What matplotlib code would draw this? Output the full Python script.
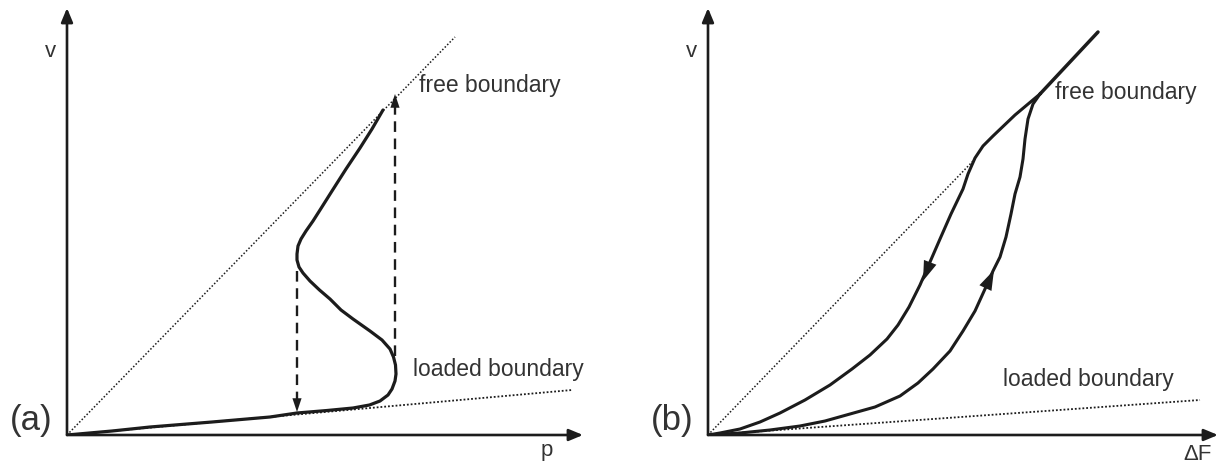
import matplotlib.pyplot as plt
import numpy as np

plt.rcParams['font.family'] = ['Liberation Sans', 'DejaVu Sans']

INK = '#1c1c1c'
TXT = '#333333'

# ---- panel (a): v against p, S-shaped response ----
a_curve_p = [0.0, 0.9, 1.66, 2.9, 4.06, 4.6, 5.2, 5.72, 6.05, 6.26, 6.42, 6.5, 6.56, 6.58, 6.57,
             6.53, 6.46, 6.3, 6.06, 5.72, 5.48, 5.26, 5.05, 4.86, 4.72, 4.64, 4.6, 4.6, 4.62,
             4.68, 4.78, 4.92, 5.06, 5.3, 5.58, 5.86, 6.1, 6.32]
a_curve_v = [0.0, 0.08, 0.16, 0.26, 0.36, 0.44, 0.49, 0.54, 0.6, 0.68, 0.8, 0.92, 1.08, 1.22, 1.4,
             1.56, 1.72, 1.9, 2.08, 2.32, 2.5, 2.72, 2.9, 3.08, 3.24, 3.36, 3.5, 3.62, 3.78,
             3.92, 4.08, 4.28, 4.5, 4.88, 5.32, 5.74, 6.12, 6.5]
a_free_p = [0.0, 7.76]
a_free_v = [0.0, 7.96]
a_loaded_p = [0.0, 10.1]
a_loaded_v = [0.0, 0.9]
a_jump_up = (6.56, 1.58, 6.82)     # p, from v, to v
a_jump_down = (4.6, 3.28, 0.46)

# ---- panel (b): v against dF, hysteresis loop ----
b_top_f = [7.8, 6.64]
b_top_v = [8.06, 6.82]
b_down_f = [6.64, 6.14, 5.70, 5.50, 5.34, 5.20, 5.10, 4.86, 4.64, 4.44, 4.24, 4.02, 3.80, 3.58,
            3.24, 2.88, 2.44, 1.94, 1.44, 1.04, 0.64, 0.24, 0.0]
b_down_v = [6.82, 6.40, 5.98, 5.78, 5.54, 5.22, 4.92, 4.42, 3.92, 3.46, 3.00, 2.56, 2.20, 1.92,
            1.60, 1.32, 1.00, 0.70, 0.44, 0.26, 0.12, 0.04, 0.0]
b_up_f = [6.64, 6.50, 6.40, 6.34, 6.30, 6.24, 6.14, 6.06, 5.96, 5.84, 5.70, 5.54, 5.34, 5.10,
          4.84, 4.50, 4.20, 3.84, 3.34, 2.84, 2.34, 1.84, 1.24, 0.64, 0.0]
b_up_v = [6.82, 6.62, 6.32, 5.92, 5.52, 5.16, 4.82, 4.42, 3.96, 3.56, 3.28, 2.92, 2.48, 2.08,
          1.68, 1.32, 1.04, 0.78, 0.56, 0.42, 0.28, 0.18, 0.10, 0.04, 0.0]
b_free_f = [0.0, 5.34]
b_free_v = [0.0, 5.52]
b_loaded_f = [0.0, 9.84]
b_loaded_v = [0.0, 0.7]
b_arrow_down = ((4.5, 3.6), (4.3, 3.08))   # tail, tip
b_arrow_up = ((5.54, 2.92), (5.72, 3.3))

fig = plt.figure(figsize=(12.26, 4.64), dpi=100)
ax_a = fig.add_axes([67 / 1226, 28 / 464, 516 / 1226, 427 / 464])
ax_b = fig.add_axes([708 / 1226, 28 / 464, 510 / 1226, 427 / 464])
ax_a.set_xlim(0, 10.32)
ax_b.set_xlim(0, 10.2)


def frame(ax, xlab, tag):
    ax.set_ylim(0, 8.54)
    ax.axis('off')
    for tip in [(1, 0), (0, 1)]:
        ax.annotate('', xy=tip, xytext=(0, 0), xycoords='axes fraction',
                    arrowprops=dict(arrowstyle='-|>,head_length=0.6,head_width=0.25',
                                    lw=1.9, color=INK, shrinkA=0, shrinkB=0,
                                    mutation_scale=14))
    ax.text(-0.34, 7.7, 'v', fontsize=16, color=TXT, ha='center', va='center')
    ax.text(*xlab, fontsize=16, color=TXT, ha='center', va='center', clip_on=False)
    ax.text(-0.72, 0.3, tag, fontsize=25, color=TXT, ha='center', va='center')


def head(ax, tail, tip, size=16):
    ax.annotate('', xy=tip, xytext=tail,
                arrowprops=dict(arrowstyle='-|>,head_length=0.9,head_width=0.3',
                                lw=0, color=INK, shrinkA=0, shrinkB=0,
                                mutation_scale=size))


frame(ax_a, (9.6, -0.3, 'p'), '(a)')
frame(ax_b, (9.8, -0.38, '\u0394F'), '(b)')

# panel (a)
ax_a.plot(a_free_p, a_free_v, color=INK, lw=1.1, ls=(0, (1, 1.3)))
ax_a.plot(a_loaded_p, a_loaded_v, color=INK, lw=1.3, ls=(0, (1, 1.1)))
ax_a.plot(a_curve_p, a_curve_v, color=INK, lw=2.3, solid_joinstyle='round',
          solid_capstyle='round')
for p, v0, v1 in [a_jump_up, a_jump_down]:
    end = v1 - 0.2 if v1 > v0 else v1 + 0.2
    ax_a.plot([p, p], [v0, end], color=INK, lw=1.7, ls=(0, (4.5, 2.8)))
    head(ax_a, (p, end), (p, v1), size=11)
ax_a.text(7.04, 7.02, 'free boundary', fontsize=16.5, color=TXT, va='center')
ax_a.text(6.92, 1.32, 'loaded boundary', fontsize=16.5, color=TXT, va='center')

# panel (b)
ax_b.plot(b_free_f, b_free_v, color=INK, lw=1.1, ls=(0, (1, 1.3)))
ax_b.plot(b_loaded_f, b_loaded_v, color=INK, lw=1.3, ls=(0, (1, 1.1)))
ax_b.plot(b_top_f, b_top_v, color=INK, lw=2.5, solid_capstyle='round')
ax_b.plot(b_down_f, b_down_v, color=INK, lw=2.2, solid_joinstyle='round')
ax_b.plot(b_up_f, b_up_v, color=INK, lw=2.2, solid_joinstyle='round')
head(ax_b, *b_arrow_down)
head(ax_b, *b_arrow_up)
ax_b.text(6.94, 6.88, 'free boundary', fontsize=16.5, color=TXT, va='center')
ax_b.text(5.9, 1.12, 'loaded boundary', fontsize=16.5, color=TXT, va='center')

fig.savefig('out.png', dpi=100, facecolor='white')
